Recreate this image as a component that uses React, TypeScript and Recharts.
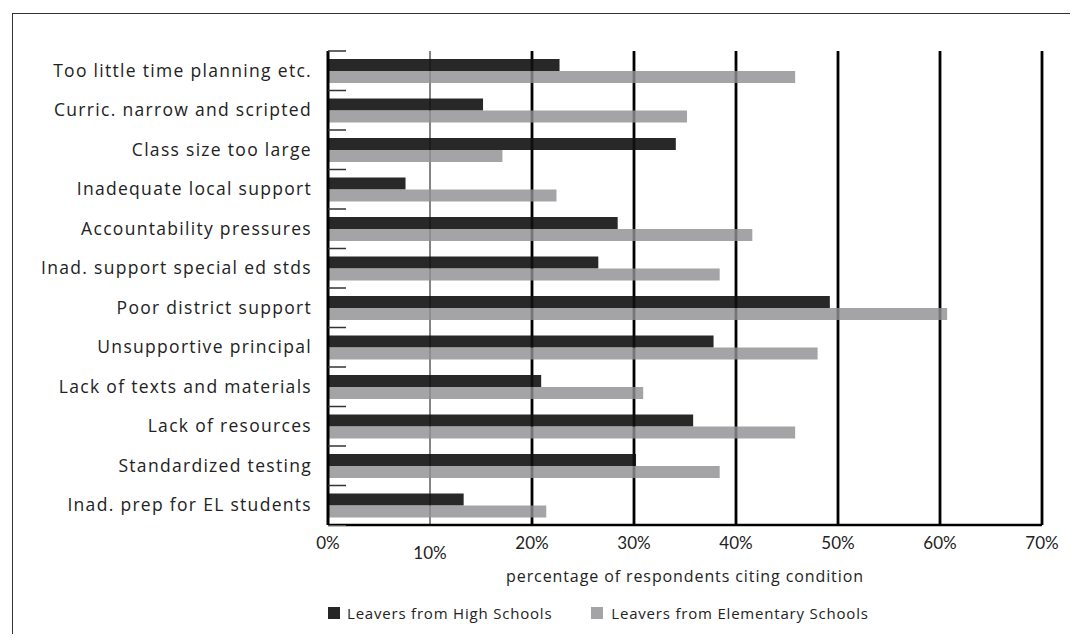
import React from 'react';
import { BarChart, Bar, XAxis, YAxis, CartesianGrid } from 'recharts';

const categories = [
  'Too little time planning etc.',
  'Curric. narrow and scripted',
  'Class size too large',
  'Inadequate local support',
  'Accountability pressures',
  'Inad. support special ed stds',
  'Poor district support ',
  'Unsupportive principal',
  'Lack of texts and materials',
  'Lack of resources',
  'Standardized testing',
  'Inad. prep for EL students',
];

const highSchool = [22.7, 15.2, 34.1, 7.6, 28.4, 26.5, 49.2, 37.8, 20.9, 35.8, 30.2, 13.3];
const elementary = [45.8, 35.2, 17.1, 22.4, 41.6, 38.4, 60.7, 48.0, 30.9, 45.8, 38.4, 21.4];

const xTicks = [0, 10, 20, 30, 40, 50, 60, 70];
const thinGrid = [10];
const thickGrid = [20, 30, 40, 50, 60, 70];

const seriesNames = ['Leavers from High Schools', 'Leavers from Elementary Schools'];

const DARK = '#111111';
const GRAY = '#909092';
const FONT = 'Lato, "Open Sans", sans-serif';
const WIDE = '"Open Sans", Lato, sans-serif';

const data = categories.map((name, i) => ({
  name,
  high: highSchool[i],
  elem: elementary[i],
}));

function gridGen(values: number[]) {
  return (props: any) => {
    const { xAxis, offset } = props;
    return values.map((v) => {
      if (xAxis && typeof xAxis.scale === 'function') return xAxis.scale(v);
      return offset.left + (v / 70) * offset.width;
    });
  };
}

function CategoryTick(props: any) {
  const { x, y, payload, index } = props;
  const half = payload && payload.offset ? payload.offset : 19.77;
  const axisX = x + 17;
  return (
    <g>
      <text
        x={x + 1}
        y={y}
        dy="0.35em"
        textAnchor="end"
        fill="#222"
        fontSize={17.5}
        letterSpacing={1.3}
        fontFamily={WIDE}
      >
        {payload.value}
      </text>
      <line x1={axisX} x2={axisX + 18} y1={y - half} y2={y - half} stroke="#333" strokeWidth={1.5} />
      {index === categories.length - 1 && (
        <line x1={axisX} x2={axisX + 18} y1={y + half + 1} y2={y + half + 1} stroke="#bbb" strokeWidth={1} />
      )}
    </g>
  );
}

function PercentTick(props: any) {
  const { x, y, payload } = props;
  const drop = payload.value === 10 ? 10 : 0;
  return (
    <text
      x={x}
      y={y + drop}
      dy="0.71em"
      textAnchor="middle"
      fill="#222"
      fontSize={17}
      fontFamily={FONT}
    >
      {`${payload.value}%`}
    </text>
  );
}

export default function App() {
  return (
    <div
      style={{
        position: 'relative',
        width: 1078,
        height: 642,
        margin: -8,
        overflow: 'hidden',
        background: '#fff',
        fontFamily: WIDE,
      }}
    >
      {/* frame, continues past the right and bottom edges */}
      <div
        style={{
          position: 'absolute',
          left: 12,
          top: 13,
          width: 1200,
          height: 800,
          borderTop: '1.5px solid #333',
          borderLeft: '1.5px solid #333',
        }}
      />
      <div style={{ position: 'absolute', left: 0, top: 0 }}>
        <BarChart
          width={1078}
          height={642}
          data={data}
          layout="vertical"
          margin={{ top: 51, right: 36, left: 12, bottom: 57 }}
          barSize={12}
          barGap={0}
        >
          <CartesianGrid
            horizontal={false}
            stroke="#333"
            strokeWidth={1.2}
            verticalCoordinatesGenerator={gridGen(thinGrid)}
          />
          <CartesianGrid
            horizontal={false}
            stroke="#000"
            strokeWidth={2.8}
            verticalCoordinatesGenerator={gridGen(thickGrid)}
          />
          <XAxis
            type="number"
            domain={[0, 70]}
            ticks={xTicks}
            interval={0}
            axisLine={{ stroke: '#000', strokeWidth: 2.5 }}
            tickLine={false}
            tickSize={0}
            tickMargin={12}
            height={60}
            tick={<PercentTick />}
            label={{
              value: 'percentage of respondents citing condition',
              position: 'insideBottom',
              offset: 3,
              fill: '#222',
              fontSize: 16,
              letterSpacing: 0.9,
              fontFamily: WIDE,
            }}
          />
          <YAxis
            type="category"
            dataKey="name"
            width={316}
            interval={0}
            axisLine={{ stroke: '#000', strokeWidth: 3 }}
            tickLine={false}
            tickSize={0}
            tickMargin={17}
            tick={<CategoryTick />}
          />
          <Bar dataKey="high" name={seriesNames[0]} fill={DARK} fillOpacity={0.9} isAnimationActive={false} />
          <Bar dataKey="elem" name={seriesNames[1]} fill={GRAY} fillOpacity={0.82} isAnimationActive={false} />
        </BarChart>
      </div>
      {/* legend */}
      <div
        style={{
          position: 'absolute',
          left: 328,
          top: 603,
          display: 'flex',
          alignItems: 'center',
          fontSize: 15,
          letterSpacing: 0.8,
          color: '#222',
        }}
      >
        <span style={{ width: 12, height: 12, background: '#262626', display: 'inline-block', marginRight: 7 }} />
        <span style={{ marginRight: 39 }}>{seriesNames[0]}</span>
        <span style={{ width: 12, height: 12, background: '#a4a4a6', display: 'inline-block', marginRight: 8 }} />
        <span>{seriesNames[1]}</span>
      </div>
    </div>
  );
}
